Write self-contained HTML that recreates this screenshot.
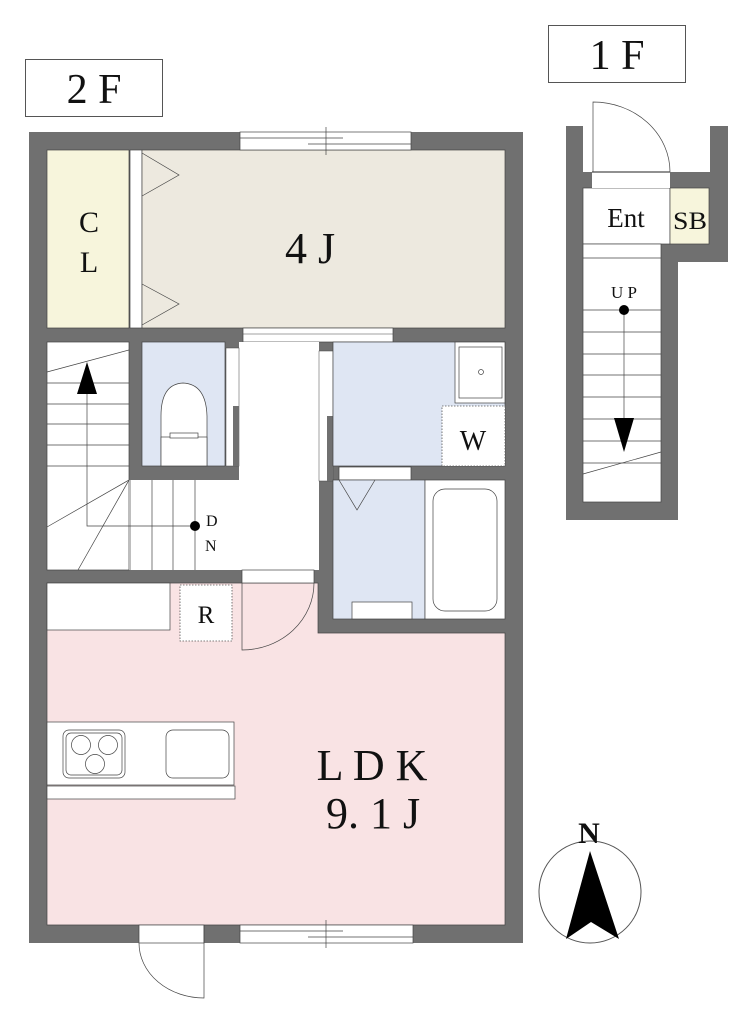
<!DOCTYPE html>
<html><head><meta charset="utf-8"><style>
html,body{margin:0;padding:0;background:#fff;}
svg{display:block;}
text{font-family:"Liberation Serif","Noto Serif CJK SC",serif;fill:#111;}
</style></head><body>
<svg width="749" height="1024" viewBox="0 0 749 1024" xmlns="http://www.w3.org/2000/svg">
<rect width="749" height="1024" fill="#fff"/>
<!-- labels -->
<rect x="25.5" y="59.5" width="137" height="57" fill="#fff" stroke="#555"/>
<text x="94" y="103" font-size="42" text-anchor="middle">2 F</text>
<rect x="548.5" y="25.5" width="137" height="57" fill="#fff" stroke="#555"/>
<text x="617" y="69" font-size="42" text-anchor="middle">1 F</text>

<!-- 2F walls -->
<rect x="29" y="132" width="494" height="811" fill="#707070"/>
<!-- rooms -->
<rect x="47" y="150" width="82" height="178" fill="#f7f5dc" stroke="#444" stroke-width="0.7"/>
<rect x="130" y="150" width="12" height="178" fill="#fff" stroke="#444" stroke-width="0.7"/>
<rect x="142" y="150" width="363" height="178" fill="#ede9df" stroke="#444" stroke-width="0.7"/>
<polyline points="142,153 179,175 142,196" fill="none" stroke="#444" stroke-width="0.7"/>
<polyline points="142,284 179,304 142,325" fill="none" stroke="#444" stroke-width="0.7"/>
<!-- top window -->
<rect x="240" y="132" width="171" height="18" fill="#fff" stroke="#444" stroke-width="0.7"/>
<line x1="240" y1="138" x2="343" y2="138" stroke="#444" stroke-width="0.7"/>
<line x1="308" y1="144" x2="411" y2="144" stroke="#444" stroke-width="0.7"/>
<line x1="326" y1="127" x2="326" y2="155" stroke="#444" stroke-width="0.7"/>
<!-- opening under 4J -->
<rect x="243" y="328" width="150" height="14" fill="#fff" stroke="#444" stroke-width="0.7"/>
<line x1="243" y1="334" x2="393" y2="334" stroke="#444" stroke-width="0.5"/>
<!-- stairs -->
<rect x="47" y="342" width="82" height="228" fill="#fff" stroke="#444" stroke-width="0.7"/>
<rect x="129" y="480" width="110" height="90" fill="#fff"/>
<rect x="239" y="342" width="80" height="228" fill="#fff"/>
<g stroke="#444" stroke-width="0.7" fill="none">
<line x1="47" y1="372" x2="129" y2="350"/>
<line x1="47" y1="383" x2="129" y2="383"/>
<line x1="47" y1="404" x2="129" y2="404"/>
<line x1="47" y1="424" x2="129" y2="424"/>
<line x1="47" y1="445" x2="129" y2="445"/>
<line x1="47" y1="466" x2="129" y2="466"/>
<line x1="129" y1="480" x2="47" y2="527"/>
<line x1="129" y1="480" x2="78" y2="570"/>
<line x1="130" y1="480" x2="130" y2="570"/>
<line x1="152" y1="480" x2="152" y2="570"/>
<line x1="173" y1="480" x2="173" y2="570"/>
<line x1="195" y1="480" x2="195" y2="570"/>
<polyline points="195,526 87,526 87,390"/>
</g>
<polygon points="87,362 77,394 97,394" fill="#000"/>
<circle cx="195" cy="526" r="5" fill="#000"/>
<text x="206" y="526" font-size="16">D</text>
<text x="205" y="551" font-size="16">N</text>
<!-- toilet -->
<rect x="142" y="342" width="83" height="124" fill="#dfe6f3" stroke="#444" stroke-width="0.7"/>
<path d="M161,466 L161,416 Q161,384 183,383 Q206,384 207,416 L207,466" fill="#fff" stroke="#444" stroke-width="0.7"/>
<rect x="161" y="437" width="46" height="29" fill="#fff" stroke="#444" stroke-width="0.7"/>
<rect x="170" y="433" width="28" height="5" fill="#fff" stroke="#444" stroke-width="0.7"/>
<rect x="226" y="348" width="13" height="118" fill="#fff" stroke="#444" stroke-width="0.5"/>
<rect x="233" y="406" width="6" height="60" fill="#707070"/>
<!-- hall side door -->
<rect x="319" y="351" width="14" height="130" fill="#fff" stroke="#444" stroke-width="0.5"/>
<rect x="327" y="416" width="6" height="65" fill="#707070"/>
<!-- wash -->
<rect x="333" y="342" width="172" height="124" fill="#dfe6f3" stroke="#444" stroke-width="0.7"/>
<rect x="455" y="342" width="50" height="61" fill="#fff" stroke="#444" stroke-width="0.7"/>
<rect x="459" y="347" width="43" height="51" fill="#fff" stroke="#444" stroke-width="0.7"/>
<circle cx="481" cy="372" r="2.5" fill="#fff" stroke="#444" stroke-width="0.7"/>
<rect x="442" y="406" width="63" height="60" fill="#fff" stroke="#555" stroke-width="0.8" stroke-dasharray="1.5,1.5"/>
<text x="473" y="450" font-size="28" text-anchor="middle">W</text>
<!-- bath -->
<rect x="339" y="467" width="72" height="13" fill="#fff" stroke="#444" stroke-width="0.7"/>
<rect x="333" y="480" width="92" height="139" fill="#dfe6f3" stroke="#444" stroke-width="0.7"/>
<polyline points="339,480 357,510 375,480" fill="none" stroke="#444" stroke-width="0.7"/>
<rect x="352" y="602" width="60" height="17" fill="#fff" stroke="#444" stroke-width="0.7"/>
<rect x="425" y="480" width="80" height="139" fill="#fff" stroke="#444" stroke-width="0.7"/>
<rect x="433" y="489" width="64" height="122" rx="12" fill="#fff" stroke="#444" stroke-width="0.7"/>
<!-- LDK -->
<path d="M47,583 L318,583 L318,633 L505,633 L505,925 L47,925 Z" fill="#f9e3e4" stroke="#444" stroke-width="0.7"/>
<rect x="47" y="583" width="123" height="47" fill="#fff" stroke="#444" stroke-width="0.7"/>
<rect x="180" y="585" width="52" height="56" fill="#fff" stroke="#555" stroke-width="0.8" stroke-dasharray="1.5,1.5"/>
<text x="206" y="623" font-size="25" text-anchor="middle">R</text>
<rect x="242" y="570" width="72" height="13" fill="#fff" stroke="#444" stroke-width="0.7"/>
<path d="M242,583 L242,650 A72,67 0 0 0 314,583" fill="none" stroke="#444" stroke-width="0.7"/>
<rect x="47" y="722" width="187" height="63" fill="#fff" stroke="#444" stroke-width="0.7"/>
<rect x="47" y="786" width="188" height="13" fill="#fff" stroke="#444" stroke-width="0.7"/>
<rect x="63" y="730" width="62" height="48" rx="6" fill="#fff" stroke="#444" stroke-width="0.7"/>
<rect x="66" y="733" width="56" height="42" rx="5" fill="none" stroke="#444" stroke-width="0.7"/>
<circle cx="81" cy="745" r="9.5" fill="none" stroke="#444" stroke-width="0.7"/>
<circle cx="108" cy="745" r="9.5" fill="none" stroke="#444" stroke-width="0.7"/>
<circle cx="95" cy="764" r="9.5" fill="none" stroke="#444" stroke-width="0.7"/>
<rect x="166" y="730" width="63" height="48" rx="7" fill="#fff" stroke="#444" stroke-width="0.7"/>
<text x="372" y="780" font-size="44" text-anchor="middle">L D K</text>
<text x="373" y="828" font-size="44" text-anchor="middle">9. 1 J</text>
<text x="310" y="263" font-size="44" text-anchor="middle">4 J</text>
<text x="89" y="232" font-size="30" text-anchor="middle">C</text>
<text x="89" y="272" font-size="30" text-anchor="middle">L</text>
<!-- bottom door & window -->
<rect x="139" y="925" width="65" height="18" fill="#fff" stroke="#444" stroke-width="0.7"/>
<path d="M139,943 A65,55 0 0 0 204,998 L204,925" fill="none" stroke="#444" stroke-width="0.7"/>
<rect x="240" y="925" width="173" height="18" fill="#fff" stroke="#444" stroke-width="0.7"/>
<line x1="240" y1="931" x2="343" y2="931" stroke="#444" stroke-width="0.7"/>
<line x1="308" y1="937" x2="413" y2="937" stroke="#444" stroke-width="0.7"/>
<line x1="326" y1="920" x2="326" y2="948" stroke="#444" stroke-width="0.7"/>

<!-- 1F -->
<path d="M566,126 L583,126 L583,172 L592,172 L592,188 L583,188 L583,502 L661,502 L661,244 L709,244 L709,188 L670,188 L670,172 L710,172 L710,126 L728,126 L728,262 L678,262 L678,520 L566,520 Z" fill="#707070"/>
<rect x="583" y="188" width="87" height="56" fill="#fff" stroke="#444" stroke-width="0.7"/>
<rect x="670" y="188" width="39" height="56" fill="#f7f5dc" stroke="#444" stroke-width="0.7"/>
<rect x="583" y="244" width="78" height="258" fill="#fff" stroke="#444" stroke-width="0.7"/>
<rect x="592" y="172" width="78" height="16" fill="#fff"/>
<line x1="592" y1="172" x2="670" y2="172" stroke="#222" stroke-width="1"/>
<path d="M593,172 L593,102 A77,70 0 0 1 670,172" fill="none" stroke="#444" stroke-width="0.7"/>
<text x="626" y="227" font-size="27" text-anchor="middle">Ent</text>
<text x="690" y="229" font-size="25" text-anchor="middle" textLength="34" lengthAdjust="spacingAndGlyphs">SB</text>
<g stroke="#444" stroke-width="0.7">
<line x1="583" y1="258" x2="661" y2="258"/>
<line x1="583" y1="310" x2="661" y2="310"/>
<line x1="583" y1="332" x2="661" y2="332"/>
<line x1="583" y1="354" x2="661" y2="354"/>
<line x1="583" y1="375" x2="661" y2="375"/>
<line x1="583" y1="397" x2="661" y2="397"/>
<line x1="583" y1="419" x2="661" y2="419"/>
<line x1="583" y1="441" x2="661" y2="441"/>
<line x1="583" y1="463" x2="661" y2="463"/>
<line x1="583" y1="474" x2="661" y2="452"/>
<line x1="624" y1="310" x2="624" y2="420"/>
</g>
<circle cx="624" cy="310" r="5" fill="#000"/>
<polygon points="614,418 634,418 624,452" fill="#000"/>
<text x="624" y="298" font-size="17" text-anchor="middle">U P</text>

<!-- compass -->
<circle cx="590" cy="892" r="51" fill="none" stroke="#555" stroke-width="1"/>
<polygon points="590,851 566,939 591,922 619,939" fill="#000"/>
<text x="589" y="843" font-size="30" text-anchor="middle" font-weight="bold">N</text>
</svg>
</body></html>
